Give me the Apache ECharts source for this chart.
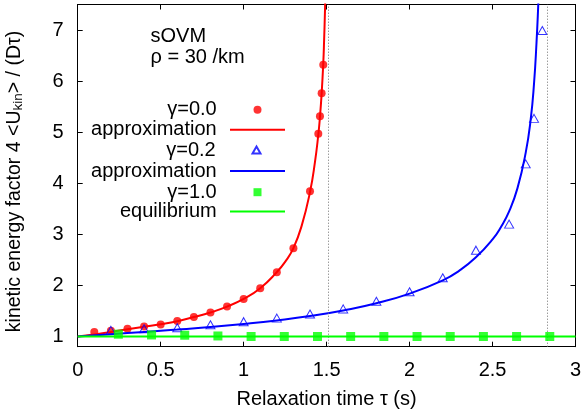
<!DOCTYPE html>
<html>
<head>
<meta charset="utf-8">
<script src="https://cdn.jsdelivr.net/npm/echarts@6/dist/echarts.min.js"></script>
<style>
html,body{margin:0;padding:0;background:#fff;}
#chart{width:584px;height:411px;}
</style>
</head>
<body>
<div id="chart"></div>
<script>
// ---- data ----
const yTickValues = [1, 2, 3, 4, 5, 6, 7];
const divergenceX = [1.51, 2.83];

const redPointsX = [0.1, 0.2, 0.3, 0.4, 0.5, 0.6, 0.7, 0.8, 0.9, 1.0, 1.1, 1.2, 1.3, 1.4, 1.45, 1.46, 1.47, 1.48];
const redPointsY = [1.09, 1.11, 1.15, 1.195, 1.235, 1.305, 1.38, 1.47, 1.585, 1.735, 1.945, 2.26, 2.73, 3.845, 4.97, 5.31, 5.76, 6.32];

const redCurveX = [0, 0.1, 0.2, 0.3, 0.4, 0.5, 0.6, 0.7, 0.8, 0.9, 1.0, 1.1, 1.2, 1.25, 1.3, 1.35, 1.4, 1.43, 1.45, 1.46, 1.47, 1.48, 1.485, 1.49, 1.495];
const redCurveY = [1.0, 1.04, 1.09, 1.14, 1.19, 1.24, 1.30, 1.38, 1.47, 1.585, 1.735, 1.945, 2.26, 2.46, 2.73, 3.17, 3.83, 4.42, 4.95, 5.3, 5.75, 6.35, 6.8, 7.35, 8.0];

const bluePointsX = [0.2, 0.4, 0.6, 0.8, 1.0, 1.2, 1.4, 1.6, 1.8, 2.0, 2.2, 2.4, 2.6, 2.7, 2.75, 2.8];
const bluePointsY = [1.12, 1.15, 1.17, 1.23, 1.29, 1.36, 1.44, 1.54, 1.69, 1.877, 2.15, 2.69, 3.2, 4.38, 5.27, 6.99];

const blueCurveX = [0, 0.2, 0.4, 0.6, 0.8, 1.0, 1.2, 1.4, 1.6, 1.8, 2.0, 2.2, 2.3, 2.4, 2.5, 2.55, 2.6, 2.65, 2.7, 2.73, 2.75, 2.765, 2.775, 2.785];
const blueCurveY = [1.0, 1.045, 1.09, 1.135, 1.185, 1.245, 1.315, 1.40, 1.51, 1.65, 1.84, 2.10, 2.29, 2.55, 2.9, 3.14, 3.45, 3.9, 4.6, 5.25, 5.95, 6.75, 7.45, 8.3];

const greenPointsX = [0.245, 0.445, 0.645, 0.845, 1.045, 1.245, 1.445, 1.645, 1.845, 2.045, 2.245, 2.445, 2.645, 2.845];
const greenPointsY = [1.045, 1.03, 1.025, 1.01, 1.0, 1.0, 1.0, 1.0, 1.0, 1.0, 1.0, 1.0, 1.0, 1.0];

const greenLineX = [0, 3];
const greenLineY = [1.0, 1.0];

const legendNames = ['γ=0.0', 'approximation', 'γ=0.2', 'approximation ', 'γ=1.0', 'equilibrium'];
const noteLines = ['sOVM', 'ρ = 30 /km'];
const xTitle = 'Relaxation time τ (s)';
const yTitleParts = ['kinetic energy factor 4 <U', 'kin', '> / (Dτ)'];

// ---- build ----
const zip = (xs, ys) => xs.map((x, i) => [x, ys[i]]);
const FONT = 'Liberation Sans';
const FS = 20;
const RED = '#ff0000', BLUE = '#0000ff', GREEN = '#00ff00';

const chart = echarts.init(document.getElementById('chart'), null, {renderer: 'canvas'});

const axisCommon = {
  axisLine: {show: true, onZero: false, lineStyle: {color: '#000', width: 1}},
  axisTick: {show: true, inside: true, length: 5, lineStyle: {color: '#000', width: 1}},
  splitLine: {show: false}
};

// legend layout: text right edge ~216.7, icon column 230..285, centre 257.5
const legendIsLine = [false, true, false, true, false, true];
const legendIconW = [8, 55, 8, 55, 8, 55];
const legendIconH = [8, 2, 7, 2, 8, 2];
const legendCenters = [108.3, 128.3, 148.5, 169.5, 190.7, 210];
const legends = legendNames.map((n, i) => {
  const w = legendIconW[i], h = legendIconH[i];
  const iconLeft = legendIsLine[i] ? 230 : 257.5 - w / 2;
  const item = legendIsLine[i] ? {name: n, icon: 'rect'} : {name: n};
  return {
    data: [item],
    orient: 'vertical',
    right: 584 - (iconLeft + w),
    top: legendCenters[i] - 8.5,
    align: 'right',
    padding: 0,
    itemWidth: w,
    itemHeight: h,
    selectedMode: false,
    formatter: (name) => name.trim(),
    textStyle: {fontFamily: FONT, fontSize: FS, color: '#000', padding: [0, iconLeft - 216.7 - 5, 0, 0]}
  };
});

const option = {
  animation: false,
  backgroundColor: '#fff',
  grid: {left: 77.7, right: 8.5, top: 4.5, bottom: 64.3, outerBoundsMode: 'none', containLabel: false},
  legend: legends,
  xAxis: [
    Object.assign({}, axisCommon, {
      type: 'value', min: 0, max: 3, interval: 0.5, position: 'bottom',
      axisLabel: {fontFamily: FONT, fontSize: FS, color: '#000', margin: 14},
      name: xTitle, nameLocation: 'middle', nameGap: 43,
      nameTextStyle: {fontFamily: FONT, fontSize: FS, color: '#000'}
    }),
    Object.assign({}, axisCommon, {
      type: 'value', min: 0, max: 3, interval: 0.5, position: 'top',
      axisLabel: {show: false}
    })
  ],
  yAxis: [
    Object.assign({}, axisCommon, {
      type: 'value', min: 0.8, max: 7.5, position: 'left',
      axisTick: Object.assign({}, axisCommon.axisTick, {customValues: yTickValues}),
      axisLabel: {fontFamily: FONT, fontSize: FS, color: '#000', margin: 14, customValues: yTickValues}
    }),
    Object.assign({}, axisCommon, {
      type: 'value', min: 0.8, max: 7.5, position: 'right',
      axisTick: Object.assign({}, axisCommon.axisTick, {customValues: yTickValues}),
      axisLabel: {show: false, customValues: yTickValues}
    })
  ],
  graphic: noteLines.map((t, i) => ({
    type: 'text', x: 150.5, y: 36 + i * 21,
    style: {text: t, fontFamily: FONT, fontSize: FS, fill: '#000', verticalAlign: 'middle', align: 'left'}
  })).concat([{
    type: 'text', x: 14.5, y: 181.5, rotation: Math.PI / 2,
    style: {
      text: '{n|' + yTitleParts[0] + '}{s|' + yTitleParts[1] + '}{n|' + yTitleParts[2] + '}',
      align: 'center', verticalAlign: 'middle', fill: '#000',
      rich: {
        n: {fontFamily: FONT, fontSize: 19.5, fill: '#000', lineHeight: 22, verticalAlign: 'middle'},
        s: {fontFamily: FONT, fontSize: 13.5, fill: '#000', lineHeight: 12, verticalAlign: 'bottom'}
      }
    }
  }]),
  series: [
    {
      name: legendNames[0], type: 'scatter', data: zip(redPointsX, redPointsY),
      symbol: 'circle', symbolSize: 8, itemStyle: {color: RED}, z: 3
    },
    {
      name: legendNames[1], type: 'line', data: zip(redCurveX, redCurveY),
      symbol: 'none', smooth: 0.5, clip: true,
      lineStyle: {color: RED, width: 2}, itemStyle: {color: RED}, z: 3,
      markLine: {
        silent: true, symbol: ['none', 'none'], label: {show: false},
        lineStyle: {color: '#6f6f6f', type: [1, 2], width: 1},
        data: [{xAxis: divergenceX[0]}]
      }
    },
    {
      name: legendNames[2], type: 'scatter', data: zip(bluePointsX, bluePointsY),
      symbol: 'triangle', symbolSize: [9, 8],
      itemStyle: {color: 'rgba(255,255,255,0)', borderColor: BLUE, borderWidth: 1}, z: 4
    },
    {
      name: legendNames[3], type: 'line', data: zip(blueCurveX, blueCurveY),
      symbol: 'none', smooth: 0.5, clip: true,
      lineStyle: {color: BLUE, width: 2}, itemStyle: {color: BLUE}, z: 4,
      markLine: {
        silent: true, symbol: ['none', 'none'], label: {show: false},
        lineStyle: {color: '#6f6f6f', type: [1, 2], width: 1},
        data: [{xAxis: divergenceX[1]}]
      }
    },
    {
      name: legendNames[4], type: 'scatter', data: zip(greenPointsX, greenPointsY),
      symbol: 'rect', symbolSize: 9, itemStyle: {color: GREEN}, z: 5
    },
    {
      name: legendNames[5], type: 'line', data: zip(greenLineX, greenLineY),
      symbol: 'none', lineStyle: {color: GREEN, width: 2}, itemStyle: {color: GREEN}, z: 5
    }
  ]
};
chart.setOption(option);
</script>
</body>
</html>
